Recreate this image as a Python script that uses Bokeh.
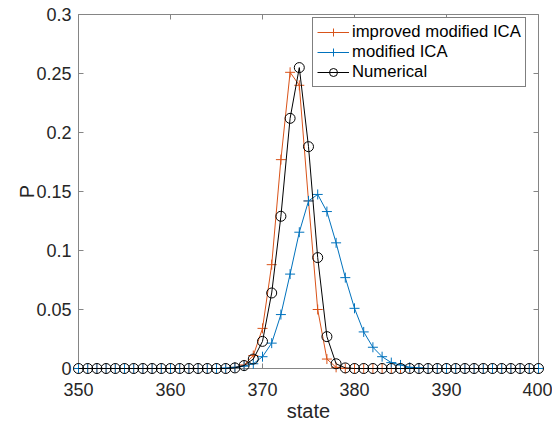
import math
from bokeh.plotting import figure
from bokeh.models import Range1d, Legend, LegendItem, FixedTicker
from bokeh.embed import file_html
from bokeh.resources import INLINE

# ---- data ----
states = list(range(350, 401))

improved_peak_start = 367
improved_peak = [0.001, 0.003, 0.011, 0.034, 0.088, 0.177, 0.251, 0.240,
                 0.142, 0.050, 0.008, 0.001]
modified_peak_start = 366
modified_peak = [0.0003, 0.001, 0.002, 0.004, 0.010, 0.0215, 0.0457, 0.080,
                 0.1155, 0.142, 0.1475, 0.133, 0.1065, 0.077, 0.051, 0.031,
                 0.018, 0.010, 0.005, 0.003, 0.001, 0.0005]
numerical_peak_start = 367
numerical_peak = [0.0005, 0.0025, 0.008, 0.023, 0.064, 0.129, 0.212, 0.255,
                  0.188, 0.094, 0.027, 0.004, 0.0005]

x_ticks = [350, 360, 370, 380, 390, 400]
y_ticks = [0, 0.05, 0.1, 0.15, 0.2, 0.25, 0.3]
y_tick_labels = ["0", "0.05", "0.1", "0.15", "0.2", "0.25", "0.3"]
series_names = ["improved modified ICA", "modified ICA", "Numerical"]

x_lo, x_hi = 350, 400
y_lo, y_hi = 0, 0.3


def full_series(start, peak):
    vals = []
    for s in states:
        i = s - start
        vals.append(peak[i] if 0 <= i < len(peak) else 0.0)
    return vals


improved = full_series(improved_peak_start, improved_peak)
modified = full_series(modified_peak_start, modified_peak)
numerical = full_series(numerical_peak_start, numerical_peak)

FONT = "Liberation Sans"
AX_COL = "#858585"
TXT_COL = "#262626"

# frame padded by 6 px on each side so that edge markers are not clipped;
# the axes box is drawn at the true data limits
pad_x = 6 * (x_hi - x_lo) / 460
pad_y = 6 * (y_hi - y_lo) / 354

p = figure(width=552, height=427, output_backend="svg", toolbar_location=None,
           x_range=Range1d(x_lo - pad_x, x_hi + pad_x),
           y_range=Range1d(y_lo - pad_y, y_hi + pad_y),
           min_border_left=72, min_border_right=8, min_border_top=8,
           min_border_bottom=53)
p.xgrid.visible = False
p.ygrid.visible = False
p.outline_line_color = None
p.background_fill_color = "white"
p.border_fill_color = "white"

xax = p.xaxis[0]
yax = p.yaxis[0]
xax.ticker = FixedTicker(ticks=x_ticks)
yax.ticker = FixedTicker(ticks=y_ticks)
yax.major_label_overrides = {t: l for t, l in zip(y_ticks, y_tick_labels)}
xax.axis_label = "state"
yax.axis_label = "P"
for ax in [xax, yax]:
    ax.axis_line_color = None
    ax.major_tick_line_color = None
    ax.minor_tick_line_color = None
    ax.major_tick_in = 0
    ax.major_tick_out = 0
    ax.major_label_text_font = FONT
    ax.major_label_text_font_size = "18px"
    ax.major_label_text_color = TXT_COL
    ax.axis_label_text_font = FONT
    ax.axis_label_text_font_size = "20px"
    ax.axis_label_text_font_style = "normal"
    ax.axis_label_text_color = TXT_COL
xax.major_label_standoff = 8
xax.axis_label_standoff = 1
yax.major_label_standoff = 1
yax.axis_label_standoff = -5

# axes box and inward ticks (MATLAB style)
p.quad(left=[x_lo], right=[x_hi], bottom=[y_lo], top=[y_hi],
       fill_color=None, line_color=AX_COL, line_width=1)
TL = 5
p.ray(x=x_ticks, y=[y_lo] * len(x_ticks), length=TL, length_units="screen",
      angle=math.pi / 2, line_color=AX_COL, line_width=1)
p.ray(x=x_ticks, y=[y_hi] * len(x_ticks), length=TL, length_units="screen",
      angle=-math.pi / 2, line_color=AX_COL, line_width=1)
p.ray(x=[x_lo] * len(y_ticks), y=y_ticks, length=TL, length_units="screen",
      angle=0, line_color=AX_COL, line_width=1)
p.ray(x=[x_hi] * len(y_ticks), y=y_ticks, length=TL, length_units="screen",
      angle=math.pi, line_color=AX_COL, line_width=1)

colors = ["#D95319", "#0072BD", "#000000"]
markers = ["cross", "cross", "circle"]
data = [improved, modified, numerical]
items = []
for name, col, mk, ys in zip(series_names, colors, markers, data):
    lr = p.line(states, ys, line_color=col, line_width=1)
    if mk == "circle":
        sr = p.scatter(states, ys, marker="circle", size=10, fill_color=None,
                       line_color=col, line_width=1)
    else:
        sr = p.scatter(states, ys, marker="cross", size=10, line_color=col,
                       line_width=1)
    items.append(LegendItem(label=name, renderers=[lr, sr]))

legend = Legend(items=items, location=(240, 287))
legend.border_line_color = "#000000"
legend.border_line_width = 1
legend.background_fill_color = "white"
legend.background_fill_alpha = 1
legend.label_text_font = FONT
legend.label_text_font_size = "16.7px"
legend.label_text_color = "#000000"
legend.padding = 4
legend.spacing = 0
legend.margin = 0
legend.label_height = 20
legend.glyph_height = 20
legend.glyph_width = 32
legend.label_standoff = 3
p.add_layout(legend, "center")

open("out.html", "w").write(file_html(p, INLINE))
